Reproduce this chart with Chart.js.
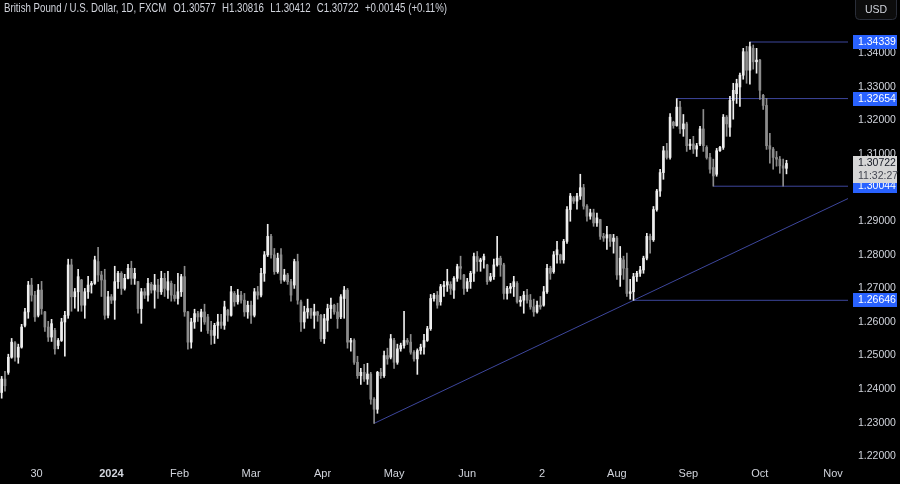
<!DOCTYPE html>
<html><head><meta charset="utf-8">
<script src="https://cdn.jsdelivr.net/npm/chart.js@4/dist/chart.umd.min.js"></script>
<style>html,body{margin:0;padding:0;background:#000;}canvas{display:block;}</style>
</head><body>
<canvas id="c" width="900" height="484"></canvas>
<script>
// ---- data (GBP/USD daily, FXCM) ----
const opens = [1.2390,1.2430,1.2450,1.2495,1.2538,1.2495,1.2525,1.2590,1.2630,1.2710,1.2680,1.2620,1.2695,1.2630,1.2585,1.2555,1.2575,1.2530,1.2545,1.2600,
1.2620,1.2770,1.2675,1.2690,1.2725,1.2650,1.2690,1.2710,1.2715,1.2780,1.2740,1.2725,1.2620,1.2675,1.2665,1.2720,1.2745,1.2700,1.2730,1.2760,
1.2730,1.2720,1.2640,1.2690,1.2680,1.2712,1.2695,1.2710,1.2690,1.2730,1.2695,1.2715,1.2680,1.2670,1.2690,1.2735,1.2630,1.2540,1.2600,1.2625,
1.2615,1.2630,1.2615,1.2575,1.2560,1.2590,1.2600,1.2590,1.2635,1.2620,1.2685,1.2660,1.2680,1.2665,1.2630,1.2650,1.2620,1.2690,1.2680,1.2745,
1.2800,1.2855,1.2800,1.2750,1.2800,1.2725,1.2740,1.2720,1.2710,1.2780,1.2660,1.2600,1.2630,1.2640,1.2620,1.2630,1.2620,1.2550,1.2605,1.2640,
1.2650,1.2630,1.2615,1.2670,1.2695,1.2540,1.2545,1.2480,1.2440,1.2450,1.2430,1.2445,1.2370,1.2340,1.2450,1.2440,1.2500,1.2495,1.2545,1.2480,
1.2520,1.2530,1.2545,1.2540,1.2510,1.2490,1.2515,1.2525,1.2545,1.2580,1.2670,1.2680,1.2660,1.2705,1.2710,1.2712,1.2695,1.2730,1.2765,1.2740,
1.2700,1.2720,1.2745,1.2795,1.2780,1.2785,1.2770,1.2725,1.2735,1.2770,1.2790,1.2770,1.2685,1.2700,1.2705,1.2715,1.2660,1.2665,1.2680,1.2665,
1.2645,1.2630,1.2650,1.2650,1.2690,1.2760,1.2750,1.2800,1.2800,1.2785,1.2840,1.2935,1.2970,1.2960,1.2975,1.3000,1.2945,1.2915,1.2925,1.2895,
1.2905,1.2855,1.2850,1.2860,1.2840,1.2850,1.2740,1.2785,1.2760,1.2685,1.2690,1.2735,1.2745,1.2755,1.2790,1.2855,1.2845,1.2935,1.2990,1.3045,
1.3110,1.3090,1.3195,1.3185,1.3240,1.3175,1.3190,1.3125,1.3130,1.3115,1.3130,1.3175,1.3120,1.3090,1.3060,1.3040,1.3110,1.3120,1.3210,1.3180,
1.3260,1.3280,1.3300,1.3335,1.3405,1.3350,1.3415,1.3375,1.3380,1.3275,1.3245,1.3125,1.3115,1.3090,1.3085,1.3065,1.30577];
const highs = [1.2438,1.2453,1.2504,1.2551,1.2542,1.2534,1.2593,1.2641,1.2721,1.2730,1.2691,1.2712,1.2721,1.2632,1.2602,1.2608,1.2581,1.2551,1.2611,1.2632,
1.2787,1.2787,1.2700,1.2757,1.2727,1.2700,1.2736,1.2721,1.2796,1.2822,1.2751,1.2757,1.2691,1.2682,1.2766,1.2751,1.2750,1.2742,1.2772,1.2781,
1.2760,1.2721,1.2700,1.2700,1.2730,1.2718,1.2742,1.2727,1.2751,1.2745,1.2751,1.2722,1.2712,1.2745,1.2742,1.2766,1.2632,1.2611,1.2638,1.2632,
1.2638,1.2653,1.2623,1.2602,1.2596,1.2623,1.2623,1.2662,1.2638,1.2706,1.2691,1.2697,1.2691,1.2685,1.2662,1.2662,1.2700,1.2706,1.2760,1.2810,
1.2891,1.2861,1.2819,1.2805,1.2819,1.2757,1.2745,1.2727,1.2787,1.2802,1.2665,1.2647,1.2668,1.2641,1.2653,1.2632,1.2623,1.2623,1.2653,1.2671,
1.2653,1.2656,1.2682,1.2706,1.2700,1.2551,1.2550,1.2498,1.2462,1.2474,1.2477,1.2450,1.2375,1.2453,1.2462,1.2513,1.2522,1.2563,1.2551,1.2534,
1.2537,1.2632,1.2551,1.2563,1.2515,1.2520,1.2534,1.2563,1.2587,1.2682,1.2685,1.2691,1.2712,1.2721,1.2757,1.2720,1.2735,1.2772,1.2796,1.2742,
1.2730,1.2751,1.2805,1.2810,1.2790,1.2802,1.2772,1.2745,1.2787,1.2855,1.2796,1.2775,1.2706,1.2715,1.2736,1.2720,1.2676,1.2691,1.2697,1.2682,
1.2668,1.2662,1.2676,1.2706,1.2772,1.2766,1.2810,1.2840,1.2802,1.2846,1.2944,1.2983,1.2974,1.2983,1.3040,1.3010,1.2950,1.2936,1.2936,1.2924,
1.2906,1.2864,1.2885,1.2861,1.2861,1.2855,1.2825,1.2796,1.2805,1.2727,1.2745,1.2751,1.2766,1.2796,1.2864,1.2862,1.2944,1.2995,1.3055,1.3123,
1.3132,1.3221,1.3198,1.32654,1.3257,1.3218,1.3195,1.3144,1.3153,1.3132,1.3183,1.3233,1.3125,1.3102,1.3085,1.3117,1.3123,1.3218,1.3215,1.3272,
1.3311,1.3323,1.3341,1.3415,1.3421,1.34339,1.3425,1.3415,1.3382,1.3278,1.3266,1.3162,1.3120,1.3108,1.3093,1.3085,1.30816];
const lows = [1.2373,1.2394,1.2444,1.2492,1.2483,1.2477,1.2522,1.2585,1.2611,1.2662,1.2602,1.2615,1.2623,1.2572,1.2542,1.2542,1.2504,1.2520,1.2542,1.2498,
1.2611,1.2632,1.2641,1.2632,1.2632,1.2611,1.2670,1.2686,1.2712,1.2721,1.2676,1.2608,1.2612,1.2655,1.2608,1.2700,1.2682,1.2695,1.2728,1.2712,
1.2712,1.2626,1.2596,1.2670,1.2662,1.2686,1.2641,1.2670,1.2682,1.2676,1.2670,1.2662,1.2662,1.2653,1.2676,1.2617,1.2519,1.2522,1.2581,1.2602,
1.2572,1.2593,1.2566,1.2533,1.2536,1.2551,1.2581,1.2578,1.2602,1.2617,1.2647,1.2653,1.2656,1.2617,1.2611,1.2596,1.2615,1.2668,1.2675,1.2721,
1.2795,1.2790,1.2742,1.2745,1.2715,1.2721,1.2712,1.2662,1.2700,1.2653,1.2572,1.2581,1.2611,1.2611,1.2581,1.2602,1.2542,1.2536,1.2572,1.2611,
1.2623,1.2581,1.2610,1.2611,1.2522,1.2513,1.2474,1.2432,1.2414,1.2423,1.2414,1.2355,1.2298,1.2328,1.2432,1.2435,1.2474,1.2490,1.2462,1.2474,
1.2513,1.2522,1.2533,1.2504,1.2483,1.2444,1.2504,1.2504,1.2542,1.2575,1.2662,1.2641,1.2650,1.2676,1.2691,1.2682,1.2670,1.2721,1.2727,1.2682,
1.2691,1.2700,1.2721,1.2751,1.2751,1.2760,1.2712,1.2721,1.2727,1.2766,1.2736,1.2668,1.2668,1.2686,1.2676,1.2656,1.2647,1.2626,1.2656,1.2638,
1.2617,1.2626,1.2638,1.2647,1.2685,1.2727,1.2745,1.2775,1.2775,1.2775,1.2834,1.2900,1.2953,1.2936,1.2965,1.2936,1.2900,1.2906,1.2885,1.2885,
1.2846,1.2840,1.2816,1.2825,1.2805,1.2727,1.2706,1.2727,1.2676,1.2668,1.26646,1.2721,1.2736,1.2745,1.2785,1.2805,1.2840,1.2930,1.2974,1.3025,
1.3085,1.3085,1.3177,1.3183,1.3162,1.3153,1.3108,1.3114,1.3102,1.3093,1.3125,1.3108,1.3085,1.3043,1.30044,1.3034,1.3108,1.3114,1.3153,1.3153,
1.3204,1.3251,1.3242,1.3323,1.3311,1.3308,1.3353,1.3341,1.3263,1.3233,1.3114,1.3073,1.3055,1.3064,1.3043,1.30044,1.30412];
const closes = [1.2430,1.2410,1.2495,1.2540,1.2495,1.2525,1.2585,1.2630,1.2710,1.2680,1.2615,1.2695,1.2640,1.2585,1.2555,1.2595,1.2520,1.2545,1.2600,1.2620,
1.2770,1.2675,1.2690,1.2735,1.2650,1.2690,1.2710,1.2715,1.2785,1.2740,1.2725,1.2620,1.2675,1.2665,1.2720,1.2745,1.2700,1.2730,1.2760,1.2730,
1.2745,1.2640,1.2690,1.2680,1.2715,1.2695,1.2710,1.2690,1.2730,1.2700,1.2720,1.2680,1.2670,1.2690,1.2735,1.2630,1.2540,1.2600,1.2625,1.2615,
1.2630,1.2600,1.2575,1.2560,1.2590,1.2600,1.2590,1.2645,1.2620,1.2690,1.2660,1.2680,1.2665,1.2630,1.2650,1.2620,1.2690,1.2680,1.2745,1.2800,
1.2855,1.2800,1.2750,1.2790,1.2725,1.2740,1.2720,1.2680,1.2780,1.2665,1.2600,1.2630,1.2640,1.2620,1.2630,1.2620,1.2550,1.2610,1.2640,1.2650,
1.2630,1.2610,1.2675,1.2695,1.2540,1.2545,1.2480,1.2440,1.2450,1.2430,1.2445,1.2370,1.2340,1.2450,1.2440,1.2500,1.2490,1.2550,1.2480,1.2520,
1.2530,1.2545,1.2540,1.2510,1.2490,1.2515,1.2525,1.2545,1.2580,1.2670,1.2680,1.2650,1.2705,1.2710,1.2720,1.2700,1.2730,1.2765,1.2760,1.2700,
1.2720,1.2745,1.2795,1.2780,1.2785,1.2795,1.2720,1.2735,1.2770,1.2790,1.2770,1.2685,1.2700,1.2705,1.2720,1.2660,1.2665,1.2680,1.2665,1.2645,
1.2630,1.2650,1.2645,1.2690,1.2760,1.2745,1.2800,1.2815,1.2785,1.2840,1.2935,1.2975,1.2960,1.2975,1.3000,1.2945,1.2915,1.2925,1.2895,1.2910,
1.2855,1.2850,1.2860,1.2840,1.2850,1.2740,1.2790,1.2760,1.2685,1.2690,1.2735,1.2745,1.2755,1.2790,1.2855,1.2845,1.2935,1.2990,1.3045,1.3110,
1.3090,1.3210,1.3185,1.3240,1.3175,1.3190,1.3125,1.3130,1.3115,1.3125,1.3175,1.3125,1.3090,1.3055,1.3035,1.3110,1.3120,1.3210,1.3190,1.3260,
1.3290,1.3310,1.3335,1.3405,1.3350,1.3420,1.3375,1.3380,1.3290,1.3245,1.3125,1.3115,1.3090,1.3085,1.3065,1.3058,1.30722];

const timeLabels = ['30','2024','Feb','Mar','Apr','May','Jun','2','Aug','Sep','Oct','Nov'];
const timeLabelBars = [10.5, 33, 53.5, 75, 96.5, 118, 140, 162.5, 185, 206.5, 228, 250];
const priceTicks = [1.22,1.23,1.24,1.25,1.26,1.27,1.28,1.29,1.30,1.31,1.32,1.33,1.34];
const levelPrices = [1.34339, 1.32654, 1.30044, 1.26646];
const levelFromBar = [225, 203, 214, 190];
const trendBars = [112, 255];
const trendPrices = [1.2298, 1.2970];
const lastPrice = 1.30722;
const countdown = '11:32:27';
const headerParts = ['British Pound / U.S. Dollar, 1D, FXCM','O1.30577','H1.30816','L1.30412','C1.30722','+0.00145 (+0.11%)'];

// ---- chart ----
const X_MIN = -0.5, X_MAX = 254.5;
const UP = '#eeeeee', DOWN = '#8c8c8c', LINE = '#3d469c';
const FONT = '"Liberation Sans",Arial,sans-serif';
const idx = closes.map((_, i) => i);
const colors = idx.map(i => closes[i] >= opens[i] ? UP : DOWN);

const lineDatasets = levelPrices.map((p, j) => ({
  type: 'line', data: [{x: levelFromBar[j], y: p}, {x: X_MAX, y: p}],
  borderColor: LINE, borderWidth: 1, pointRadius: 0, tension: 0, order: 5
}));
lineDatasets.push({
  type: 'line', data: trendBars.map((b, j) => ({x: b, y: trendPrices[j]})),
  borderColor: LINE, borderWidth: 1, pointRadius: 0, tension: 0, order: 5
});

const overlay = {
  id: 'overlay',
  afterDraw(chart) {
    const {ctx, scales: {y}} = chart;
    ctx.save();
    ctx.textBaseline = 'middle'; ctx.textAlign = 'left';
    // header, condensed to the reference's width
    ctx.font = '12.5px ' + FONT;
    const gaps = [9, 8, 8, 8, 8];
    let total = 0;
    headerParts.forEach((t, i) => { total += ctx.measureText(t).width + (gaps[i] || 0); });
    const sx = 443 / total;
    ctx.save();
    ctx.translate(4, 0); ctx.scale(sx, 1);
    ctx.fillStyle = '#d1d4dc';
    let hx = 0;
    headerParts.forEach((t, i) => { ctx.fillText(t, hx, 9); hx += ctx.measureText(t).width + (gaps[i] || 0); });
    ctx.restore();
    // level price tags
    ctx.font = '10.5px ' + FONT;
    levelPrices.forEach(p => {
      const py = Math.round(y.getPixelForValue(p));
      ctx.fillStyle = '#2962ff';
      ctx.fillRect(853, py - 7, 44, 14);
      ctx.fillStyle = '#ffffff';
      ctx.fillText(p.toFixed(5), 858, py + 0.5);
    });
    // last price tag
    const ly = Math.round(y.getPixelForValue(lastPrice));
    ctx.fillStyle = '#d6d6d6';
    ctx.fillRect(853, ly - 7, 44, 27);
    ctx.fillStyle = '#131722';
    ctx.fillText(lastPrice.toFixed(5), 858, ly + 0.5);
    ctx.fillStyle = '#434651';
    ctx.fillText(countdown, 858, ly + 13);
    // currency button
    ctx.strokeStyle = '#2a2e39'; ctx.fillStyle = '#0c0c0c'; ctx.lineWidth = 1;
    ctx.beginPath(); ctx.roundRect(855.5, -4.5, 41, 24, 4); ctx.fill(); ctx.stroke();
    ctx.fillStyle = '#d1d4dc'; ctx.textAlign = 'center';
    ctx.fillText('USD', 876, 10);
    ctx.restore();
  }
};

new Chart(document.getElementById('c'), {
  type: 'bar',
  data: {
    datasets: [
      ...lineDatasets,
      { type: 'bar', data: idx.map(i => ({x: i, y: [lows[i], highs[i]]})), backgroundColor: colors,
        barThickness: 1, grouped: false, order: 3 },
      { type: 'bar', data: idx.map(i => ({x: i, y: [opens[i], closes[i]]})), backgroundColor: colors,
        barThickness: 2, grouped: false, minBarLength: 1, order: 1 }
    ]
  },
  options: {
    responsive: false, animation: false, devicePixelRatio: 1,
    layout: { padding: 0 },
    plugins: { legend: {display: false}, tooltip: {enabled: false}, title: {display: false} },
    scales: {
      x: {
        type: 'linear', min: X_MIN, max: X_MAX, offset: false,
        grid: {display: false, drawTicks: false}, border: {display: false},
        ticks: {
          autoSkip: false, maxRotation: 0, padding: 5, color: '#d1d4dc',
          font: c => ({family: FONT, size: 11, weight: c.index === 1 ? 'bold' : 'normal'}),
          callback: (v, i) => timeLabels[i]
        },
        afterBuildTicks: s => { s.ticks = timeLabelBars.map(v => ({value: v})); },
        afterFit: s => { s.height = 22; s.paddingLeft = 0; s.paddingRight = 0; }
      },
      y: {
        position: 'right', min: 1.2183, max: 1.3559,
        grid: {display: false, drawTicks: false}, border: {display: false},
        ticks: { color: '#d1d4dc', padding: 10, font: {family: FONT, size: 10.5},
          callback: v => v.toFixed(5) },
        afterBuildTicks: s => { s.ticks = priceTicks.map(v => ({value: v})); },
        afterFit: s => { s.width = 52; s.paddingTop = 0; s.paddingBottom = 0; }
      }
    }
  },
  plugins: [overlay]
});
</script>
</body></html>
